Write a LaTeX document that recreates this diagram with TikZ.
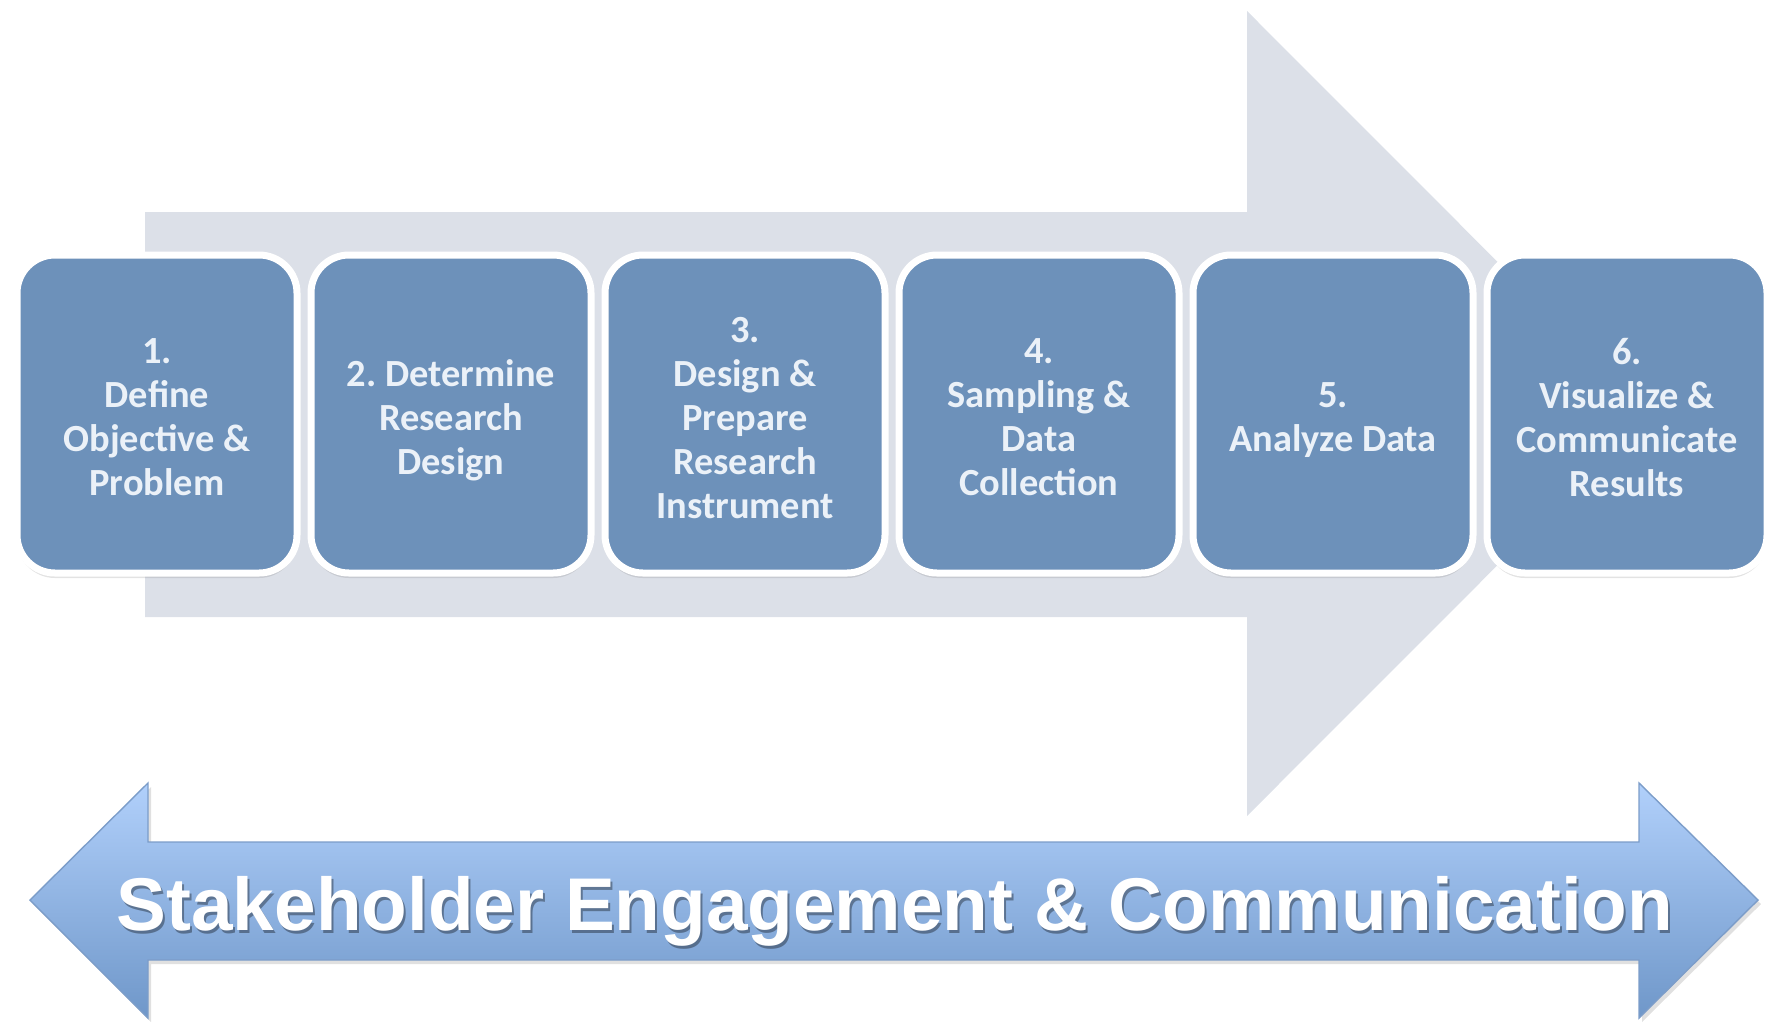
\documentclass[tikz,border=0pt]{standalone}
\usepackage{fontspec}
\setmainfont{Carlito}
\newfontfamily\bandfont{Liberation Sans}
\usetikzlibrary{shadows}
\definecolor{boxblue}{HTML}{6D91BA}
\definecolor{greyarrow}{HTML}{DCE0E8}
\definecolor{arrtop}{HTML}{B1D0FB}
\definecolor{arrbot}{HTML}{6F97C9}
\definecolor{arredge}{HTML}{7C9DC9}
\definecolor{boxtext}{HTML}{EBF1F8}
\frenchspacing
\begin{document}
\begin{tikzpicture}[x=0.5pt,y=-0.5pt,
  stepbox/.style={draw=white, line width=3.5pt, fill=boxblue, rounded corners=19pt,
    minimum width=140pt, minimum height=159pt, inner sep=0pt,
    drop shadow={opacity=0.22, shadow xshift=0pt, shadow yshift=-2.5pt}},
  steptext/.style={text=boxtext, align=center, inner sep=0pt, text depth=0pt,
    font=\bfseries\fontsize{19.2}{19.6}\selectfont},
  bandtext/.style={font=\bandfont\bfseries\fontsize{37.35}{40}\selectfont, inner sep=0pt, anchor=base}]
\useasboundingbox (0,0) rectangle (1781,1024);
% big grey process arrow
\fill[greyarrow] (145,212) -- (1247,212) -- (1247,11) -- (1649,413.5) -- (1247,816) -- (1247,617) -- (145,617) -- cycle;
% step boxes
\node[stepbox] (s1) at (157,414) {};
\node[stepbox] (s2) at (451,414) {};
\node[stepbox] (s3) at (745,414) {};
\node[stepbox] (s4) at (1039,414) {};
\node[stepbox] (s5) at (1333,414) {};
\node[stepbox] (s6) at (1627,414) {};
\node[steptext] (t1) at ([yshift=-1.7pt]s1.center) {1.\\[2.4pt]Define\\[2.4pt]Objective \&\\[2.4pt]Problem};
\node[steptext] (t2) at ([yshift=-1.7pt]s2.center) {2. Determine\\[2.4pt]Research\\[2.4pt]Design};
\node[steptext] (t3) at ([yshift=-1.7pt]s3.center) {3.\\[2.4pt]Design \&\\[2.4pt]Prepare\\[2.4pt]Research\\[2.4pt]Instrument};
\node[steptext] (t4) at ([yshift=-1.7pt]s4.center) {4.\\[2.4pt]Sampling \&\\[2.4pt]Data\\[2.4pt]Collection};
\node[steptext] (t5) at ([yshift=-1.7pt]s5.center) {5.\\[2.4pt]Analyze Data};
\node[steptext] (t6) at ([yshift=-1.7pt]s6.center) {6.\\[2.4pt]Visualize \&\\[2.4pt]Communicate\\[2.4pt]Results};
% bottom double arrow
\fill[black, opacity=0.12] (33,904) -- (151,787) -- (151,846) -- (1642,846) -- (1642,787) -- (1761,904) -- (1642,1022) -- (1642,964) -- (151,964) -- (151,1022) -- cycle;
\shade[top color=arrtop, bottom color=arrbot, draw=arredge, line width=0.7pt]
  (30,900) -- (148,783) -- (148,842) -- (1639,842) -- (1639,783) -- (1758,900) -- (1639,1018) -- (1639,960) -- (148,960) -- (148,1018) -- cycle;
\node[bandtext, text=black, opacity=0.35] (bandshadow) at (897,933) {Stakeholder Engagement \& Communication};
\node[bandtext, text=white] (band) at (895,930) {Stakeholder Engagement \& Communication};
\end{tikzpicture}
\end{document}
